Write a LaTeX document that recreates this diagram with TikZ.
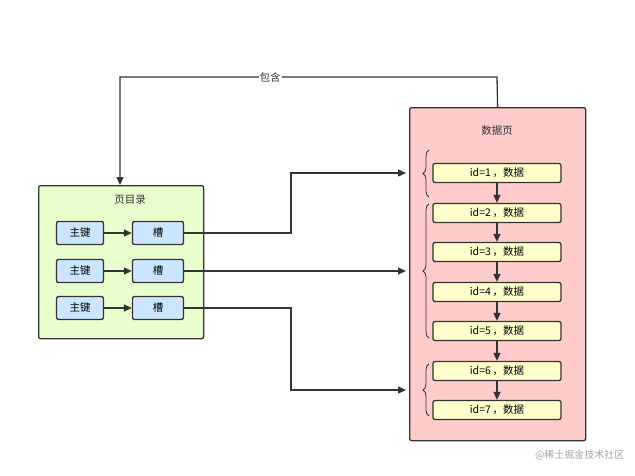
\documentclass[tikz,border=0pt]{standalone}
\usepackage{fontspec}
\setmainfont{Noto Sans CJK SC}
\usetikzlibrary{arrows.meta,decorations.pathreplacing}
\definecolor{ln}{HTML}{333333}
\definecolor{kf}{HTML}{CCE5FF}
\definecolor{gf}{HTML}{E6FFCC}
\definecolor{rf}{HTML}{FFCCCC}
\definecolor{yf}{HTML}{FFFFCC}
\begin{document}
\begin{tikzpicture}[x=1pt,y=-1pt,
  box/.style={draw=ln,line width=1.3pt,rounded corners=2pt,inner sep=0pt,font=\fontsize{10.5}{12}\selectfont},
  key/.style={box,fill=kf,minimum width=47pt,minimum height=23pt},
  dat/.style={box,fill=yf,minimum width=128pt,minimum height=19pt},
  con/.style={draw=ln,line width=1.3pt,-{Triangle[length=8pt,width=7pt]}},
  br/.style={draw=ln,line width=0.8pt,decorate,decoration={brace,amplitude=6pt}}]
\useasboundingbox[fill=white] (0,0) rectangle (635,475);
\node[box,fill=gf,minimum width=165pt,minimum height=153pt,anchor=north west] (pd) at (38,185) {};
\node[font=\fontsize{10.5}{12}\selectfont,text=ln] (pdt) at (130,200) {页目录};
\foreach \i/\y in {1/233,2/271,3/308}{
  \node[key] (k\i) at (80,\y) {主键};
  \node[key,minimum width=51pt] (s\i) at (158,\y) {槽};
  \draw[con] (k\i) -- (s\i);
}
\node[box,fill=rf,minimum width=176pt,minimum height=333pt,anchor=north west] (dp) at (409,107) {};
\node[font=\fontsize{10.5}{12}\selectfont,text=ln] (dpt) at (497,131) {数据页};
\foreach \i/\y in {1/173,2/213,3/252,4/292,5/331,6/371,7/410}{
  \node[dat] (d\i) at (497,\y) {id=\i\,，数据};
}
\foreach \a/\b in {1/2,2/3,3/4,4/5,5/6,6/7}{\draw[con] (d\a) -- (d\b);}
\draw[br] (429,197) -- (429,150);
\draw[br] (429,338) -- (429,204);
\draw[br] (429,416) -- (429,364);
\coordinate (b1) at (406,173);
\coordinate (b2) at (406,271);
\coordinate (b3) at (406,390);
\draw[con] (s1) -- (291,233) -- (291,173) -- (b1);
\draw[con] (s2) -- (b2);
\draw[con] (s3) -- (291,308) -- (291,390) -- (b3);
\draw[con] (dp.north) -- (497,77) -- (120,77) -- (pd.north -| 120,0);
\node[fill=white,inner sep=1pt,font=\fontsize{10.5}{12}\selectfont,text=ln] (lb) at (270,77) {包含};
\node[text=gray!70,font=\fontsize{10}{11}\selectfont,anchor=east] (wm) at (628,455) {@稀土掘金技术社区};
\end{tikzpicture}
\end{document}
